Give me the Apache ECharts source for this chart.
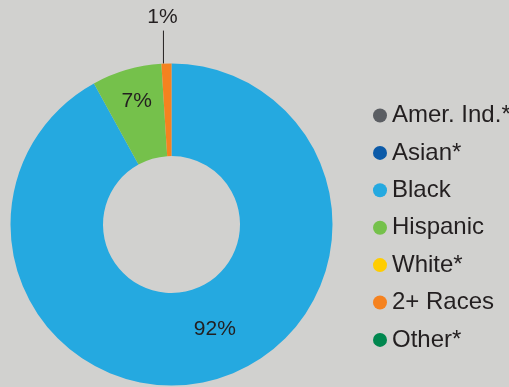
<!DOCTYPE html>
<html>
<head>
<meta charset="utf-8">
<script src="https://cdn.jsdelivr.net/npm/echarts@6/dist/echarts.min.js"></script>
<style>
  html, body { margin: 0; padding: 0; background: #d1d1cf; }
  #chart { width: 509px; height: 387px; }
</style>
</head>
<body>
<div id="chart"></div>
<script>
// Share of students by race / ethnicity (percent)
const categories = ['Amer. Ind.*', 'Asian*', 'Black', 'Hispanic', 'White*', '2+ Races', 'Other*'];
const shares = [0, 0, 92, 7, 0, 1, 0];
const colors = ['#5b5e63', '#0b5aa8', '#25a9e0', '#75c14b', '#ffcd00', '#f5821f', '#00874f'];

const textColor = '#231f20';
const fontFamily = '"Liberation Sans", Arial, Helvetica, sans-serif';

const pieData = categories.map((name, i) => {
  const item = { name, value: shares[i], itemStyle: { color: colors[i] } };
  if (shares[i] === 0) {
    item.label = { show: false };
    item.labelLine = { show: false };
  } else if (name === '2+ Races') {
    item.label = { position: 'outside' };
    item.labelLine = { show: true, length: 33, length2: 0, lineStyle: { color: '#231f20', width: 1 } };
  } else {
    item.label = { position: 'inside' };
    item.labelLine = { show: false };
  }
  return item;
});

// Small nudges for the in-slice labels
const labelNudge = { 'Black': [14, -9], 'Hispanic': [-2, -10] };

const chart = echarts.init(document.getElementById('chart'), null, { renderer: 'canvas' });
chart.setOption({
  backgroundColor: '#d1d1cf',
  animation: false,
  legend: {
    orient: 'vertical',
    left: 373,
    top: 103.5,
    padding: 0,
    icon: 'circle',
    itemWidth: 14,
    itemHeight: 14,
    itemGap: 13.4,
    selectedMode: false,
    data: categories,
    textStyle: {
      color: textColor,
      fontFamily,
      fontSize: 24,
      lineHeight: 24,
      padding: [0, 0, 0, 0]
    }
  },
  series: [{
    type: 'pie',
    center: [171.5, 224.5],
    radius: [68.5, 161],
    startAngle: 90,
    clockwise: true,
    avoidLabelOverlap: false,
    minAngle: 0,
    itemStyle: { borderWidth: 0 },
    emphasis: { disabled: true },
    label: {
      show: true,
      formatter: p => p.value + '%',
      color: textColor,
      fontFamily,
      fontSize: 21
    },
    labelLayout: params => {
      const name = categories[params.dataIndex];
      if (labelNudge[name]) {
        return { dx: labelNudge[name][0], dy: labelNudge[name][1] };
      }
      if (params.labelLinePoints) {
        // vertical leader line straight up from the slice edge, label centred above it
        const p0 = params.labelLinePoints[0];
        const p1 = params.labelLinePoints[1];
        const x = p0[0] - 3;
        const top = [x, p1[1]];
        return {
          x: x - 1,
          y: p1[1] - 3,
          align: 'center',
          verticalAlign: 'bottom',
          labelLinePoints: [[x, p0[1]], top, top]
        };
      }
      return {};
    },
    data: pieData
  }]
});
</script>
</body>
</html>
